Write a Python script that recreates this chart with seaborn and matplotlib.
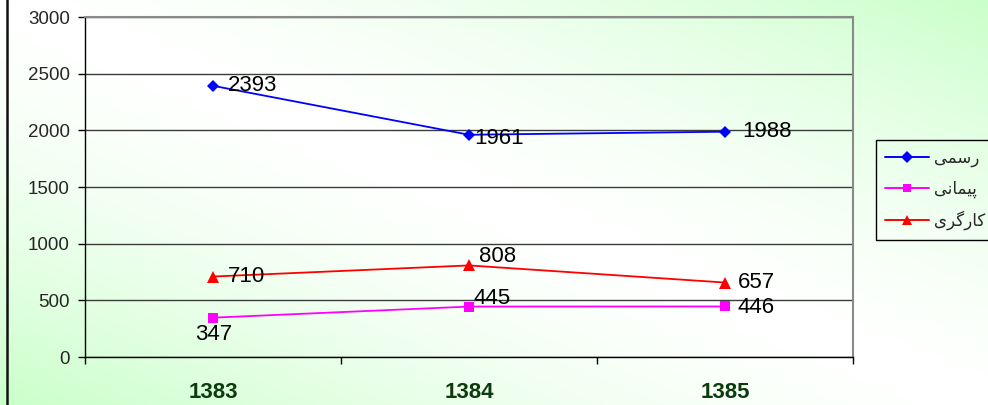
import numpy as np
import pandas as pd
import seaborn as sns
import matplotlib.pyplot as plt
from matplotlib.lines import Line2D
from matplotlib.ticker import FixedLocator

# data
years = ['1383', '1384', '1385']
rasmi = [2393, 1961, 1988]
peymani = [347, 445, 446]
kargari = [710, 808, 657]

# legend names (Persian), written as shaped presentation forms in visual order
# رسمی / پیمانی / کارگری
name_rasmi = '\uFBFD\uFEE4\uFEB3\uFEAD'
name_peymani = '\uFBFD\uFEE7\uFE8E\uFEE4\uFBFF\uFB58'
name_kargari = '\uFBFC\uFEAE\uFB94\uFEAD\uFE8E\uFB90'

# label offsets in pixels (dx, dy, ha, va)
label_pos = {
    name_rasmi: [(15, 0, 'left', 'center'), (5, -4, 'left', 'center'), (17, 0, 'left', 'center')],
    name_peymani: [(1, -6, 'center', 'top'), (5, 8, 'left', 'center'), (13, -1, 'left', 'center')],
    name_kargari: [(15, 0, 'left', 'center'), (10, 9, 'left', 'center'), (13, 0, 'left', 'center')],
}


def main():
    sns.set_style('white')
    plt.rcParams['font.family'] = ['Liberation Sans', 'DejaVu Sans']

    df = pd.DataFrame({
        'year': years * 3,
        'value': rasmi + peymani + kargari,
        'series': [name_rasmi] * 3 + [name_peymani] * 3 + [name_kargari] * 3,
    })
    palette = {name_rasmi: '#0000ff', name_peymani: '#ff00ff', name_kargari: '#ff0000'}
    markers = {name_rasmi: 'D', name_peymani: 's', name_kargari: '^'}

    W, H = 988, 405
    fig = plt.figure(figsize=(W / 100, H / 100), dpi=100)

    # green diagonal gradient background
    bg = fig.add_axes([0, 0, 1, 1], zorder=0)
    xx, yy = np.meshgrid(np.linspace(0, 1, W), np.linspace(0, 1, H))
    g = np.abs(xx - yy) ** 1.5
    white = np.array([1.0, 1.0, 1.0])
    green = np.array([0.79, 1.0, 0.79])
    img = white[None, None, :] * (1 - g[..., None]) + green[None, None, :] * g[..., None]
    bg.imshow(img, extent=[0, 1, 0, 1], aspect='auto', origin='upper')
    bg.axis('off')
    fig.add_artist(Line2D([7 / W, 7 / W], [0, 1], color='#111111', lw=1.8))

    ax = fig.add_axes([85 / W, 1 - 357 / H, 768 / W, 340 / H], zorder=1)
    ax.set_facecolor('none')

    sns.lineplot(data=df, x='year', y='value', hue='series', style='series',
                 palette=palette, markers=markers, dashes=False, sort=False,
                 lw=1.3, markersize=7, markeredgewidth=0, ax=ax, legend=True,
                 zorder=3)
    for ln in ax.lines:
        if ln.get_marker() == '^':
            ln.set_markersize(9)
        elif ln.get_marker() == 'D':
            ln.set_markersize(6)

    # data labels
    for name, vals in [(name_rasmi, rasmi), (name_peymani, peymani), (name_kargari, kargari)]:
        for yr, v, (dx, dy, ha, va) in zip(years, vals, label_pos[name]):
            ax.annotate(str(v), xy=(yr, v), xytext=(dx, dy), textcoords='offset pixels',
                        ha=ha, va=va, fontsize=16, color='black', zorder=4)

    ax.set_xlim(-0.5, 2.5)
    ax.set_ylim(0, 3000)
    ax.set_yticks(np.arange(0, 3001, 500))
    ax.set_xlabel('')
    ax.set_ylabel('')
    ax.yaxis.grid(True, color='#3c3c3c', lw=1)
    ax.set_axisbelow(True)

    ax.tick_params(axis='y', direction='out', length=5, width=1, color='black',
                   pad=6, labelsize=13.5, left=True)
    ax.tick_params(axis='x', which='major', length=0, pad=18, labelsize=16,
                   labelcolor='#0d3b0d')
    for lab in ax.get_xticklabels():
        lab.set_fontweight('bold')
    ax.xaxis.set_minor_locator(FixedLocator([-0.5, 0.5, 1.5, 2.5]))
    ax.tick_params(axis='x', which='minor', direction='out', length=5, width=1,
                   color='black', bottom=True)

    for side in ['left', 'bottom']:
        ax.spines[side].set_color('black')
        ax.spines[side].set_linewidth(1)
    for side in ['top', 'right']:
        ax.spines[side].set_color('#8a8a8a')
        ax.spines[side].set_linewidth(1.5)

    handles, labels = ax.get_legend_handles_labels()
    for h in handles:
        h.set_markersize(6 if h.get_marker() != '^' else 7)
        h.set_linewidth(1.4)
    leg = ax.legend(handles, labels, loc='upper left',
                    bbox_to_anchor=(876 / W, 1 - 140 / H), bbox_transform=fig.transFigure,
                    frameon=True, fancybox=False, framealpha=1, facecolor='none',
                    edgecolor='black',
                    prop={'family': 'DejaVu Sans', 'size': 12},
                    handlelength=2.6, handletextpad=0.3, labelspacing=0.75,
                    borderpad=0.55, borderaxespad=0)
    leg.get_frame().set_linewidth(1)

    fig.savefig('out.png', dpi=100)


if __name__ == '__main__':
    main()
